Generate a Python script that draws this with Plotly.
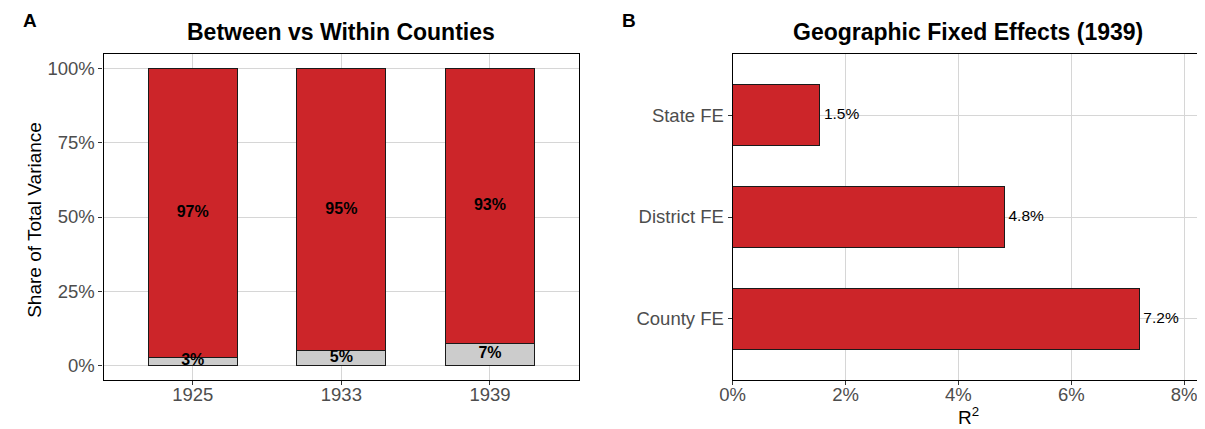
import plotly.graph_objects as go

# Panel A: share of total variance, between vs within counties
years = ["1925", "1933", "1939"]
between_share = [2.6, 5.05, 7.3]
within_share = [100 - v for v in between_share]
share_ticks = [0, 25, 50, 75, 100]

# Panel B: R^2 of geographic fixed effects (1939)
fe_labels = ["County FE", "District FE", "State FE"]
fe_r2 = [7.2, 4.81, 1.54]
r2_ticks = [0, 2, 4, 6, 8]

RED = "#CC2529"
GREY = "#CCCCCC"
FONT = "Liberation Sans, Arial, sans-serif"
TICK_GREY = "#4D4D4D"
GRID = "#D6D6D6"

# the photographed page places the figure with an offset (and a slight
# horizontal squeeze), so reference pixel positions are mapped back here
W, H = 1197, 421
X0, XS = 20.7, 0.985
Y0 = 8


def px(x):
    return min(max((x - X0) / XS, 0), W) / W


def py(y):
    return 1 - (y - Y0) / H


# panel domains (pixel edges of the reference)
ax_a = [px(103), px(577)]
ax_b = [px(730), px(1200)]
ax_y = [py(380), py(54)]

# x range of panel B so that 0% and 8% sit where the reference has them
b_left, b_right = ax_b[0] * W, ax_b[1] * W
b_8 = (1180 - X0) / XS
b_max = 8 * (b_right - b_left) / (b_8 - b_left)

fig = go.Figure()

# --- Panel A: stacked bars ---
fig.add_trace(go.Bar(
    x=years, y=between_share, width=0.6,
    marker=dict(color=GREY, line=dict(color="#1a1a1a", width=1)),
    xaxis="x", yaxis="y", showlegend=False, hoverinfo="skip"
))
fig.add_trace(go.Bar(
    x=years, y=within_share, width=0.6,
    marker=dict(color=RED, line=dict(color="#1a1a1a", width=1)),
    xaxis="x", yaxis="y", showlegend=False, hoverinfo="skip"
))

# segment labels at the middle of each segment
fig.add_trace(go.Scatter(
    x=years, y=[v / 2 for v in between_share], mode="text",
    text=[f"{round(v)}%" for v in between_share],
    textfont=dict(family=FONT, size=16, color="black", weight="bold"),
    xaxis="x", yaxis="y", showlegend=False, hoverinfo="skip"
))
fig.add_trace(go.Scatter(
    x=years, y=[b + w / 2 for b, w in zip(between_share, within_share)], mode="text",
    text=[f"{round(v)}%" for v in within_share],
    textfont=dict(family=FONT, size=16, color="black", weight="bold"),
    xaxis="x", yaxis="y", showlegend=False, hoverinfo="skip"
))

# --- Panel B: horizontal bars ---
fig.add_trace(go.Bar(
    x=fe_r2, y=fe_labels, orientation="h", width=0.6,
    marker=dict(color=RED, line=dict(color="#1a1a1a", width=1)),
    xaxis="x2", yaxis="y2", showlegend=False, hoverinfo="skip"
))
fig.add_trace(go.Scatter(
    x=fe_r2, y=fe_labels, mode="text",
    text=[f" {v:.1f}%" for v in fe_r2], textposition="middle right",
    textfont=dict(family=FONT, size=15.5, color="black"),
    xaxis="x2", yaxis="y2", showlegend=False, hoverinfo="skip"
))

axis_common = dict(
    showline=True, mirror=True, linecolor="black", linewidth=1.2,
    ticks="outside", ticklen=4, tickcolor="#333333", tickwidth=1,
    showgrid=True, gridcolor=GRID, gridwidth=1.1, zeroline=False,
    tickfont=dict(family=FONT, size=18.5, color=TICK_GREY),
)

fig.update_layout(
    width=W, height=H,
    margin=dict(l=0, r=0, t=0, b=0),
    paper_bgcolor="white", plot_bgcolor="white",
    barmode="stack",
    font=dict(family=FONT),
    xaxis=dict(domain=ax_a, type="category", range=[-0.6, 2.6], ticklabelstandoff=-6,
               categoryorder="array", categoryarray=years, anchor="y", **axis_common),
    yaxis=dict(domain=ax_y, range=[-5, 105], tickmode="array", tickvals=share_ticks,
               ticktext=[f"{v}%" for v in share_ticks], anchor="x", **axis_common),
    xaxis2=dict(domain=ax_b, range=[0, b_max], tickmode="array", tickvals=r2_ticks,
                ticktext=[f"{v}%" for v in r2_ticks], anchor="y2", ticklabelstandoff=-6,
                **axis_common),
    yaxis2=dict(domain=ax_y, type="category", range=[-0.6, 2.6],
                categoryorder="array", categoryarray=fe_labels, anchor="x2", **axis_common),
)

# titles, axis titles and panel tags
fig.add_annotation(text="<b>Between vs Within Counties</b>", xref="paper", yref="paper",
                   x=sum(ax_a) / 2, y=py(32), showarrow=False,
                   font=dict(family=FONT, size=23, color="black"), xanchor="center", yanchor="middle")
fig.add_annotation(text="<b>Geographic Fixed Effects (1939)</b>", xref="paper", yref="paper",
                   x=sum(ax_b) / 2, y=py(32), showarrow=False,
                   font=dict(family=FONT, size=23, color="black"), xanchor="center", yanchor="middle")
fig.add_annotation(text="Share of Total Variance", xref="paper", yref="paper",
                   x=px(33.5), y=py(220), textangle=-90, showarrow=False,
                   font=dict(family=FONT, size=19, color="black"), xanchor="center", yanchor="middle")
fig.add_annotation(text="R<sup>2</sup>", xref="paper", yref="paper",
                   x=sum(ax_b) / 2, y=py(416), showarrow=False,
                   font=dict(family=FONT, size=19, color="black"), xanchor="center", yanchor="middle")
fig.add_annotation(text="<b>A</b>", xref="paper", yref="paper", x=0, y=1,
                   showarrow=False, font=dict(family=FONT, size=19, color="black"),
                   xanchor="left", yanchor="top")
fig.add_annotation(text="<b>B</b>", xref="paper", yref="paper", x=px(618), y=1,
                   showarrow=False, font=dict(family=FONT, size=19, color="black"),
                   xanchor="left", yanchor="top")

fig.write_html("out.html")
